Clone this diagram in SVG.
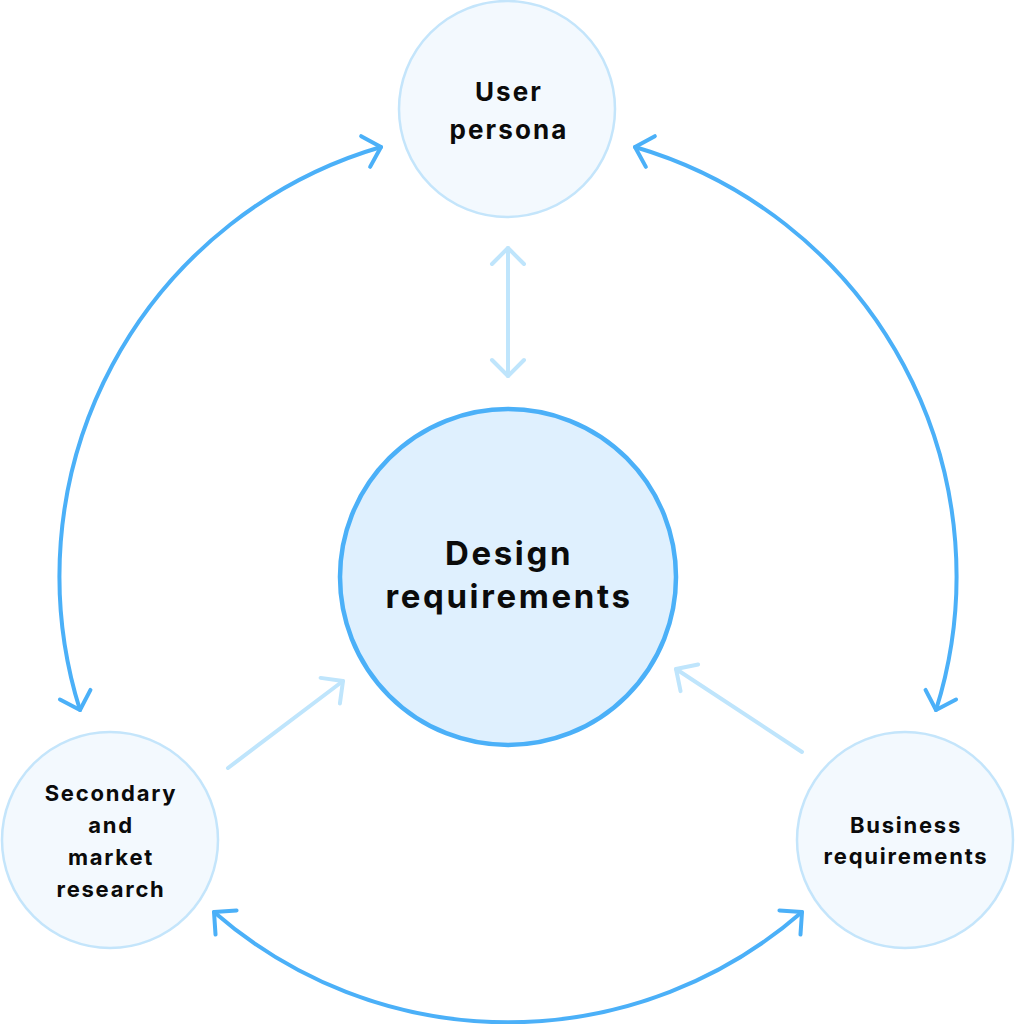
<svg xmlns="http://www.w3.org/2000/svg" width="1015" height="1024" viewBox="0 0 1015 1024">
<style>
.txt{font-family:Inter,"Noto Sans","DejaVu Sans",sans-serif;font-weight:700;fill:#0b0b0b;text-anchor:middle;letter-spacing:0.08em}
.node{fill:#f3f9fe;stroke:#c4e5fb;stroke-width:2.5}
.main{fill:#dff0fe;stroke:#4bb0f8;stroke-width:4.5}
.arc{fill:none;stroke:#4bb0f8;stroke-width:4;stroke-linecap:round}
.light{fill:none;stroke:#bfe5fc;stroke-width:4;stroke-linecap:round}
</style>
<defs>
<marker id="ah" markerUnits="userSpaceOnUse" markerWidth="40" markerHeight="40" refX="20" refY="20" orient="auto-start-reverse" viewBox="0 0 40 40">
<path d="M4 4 L20 20 L4 36" fill="none" stroke="#4bb0f8" stroke-width="4" stroke-linecap="round" stroke-linejoin="round"/>
</marker>
<marker id="al" markerUnits="userSpaceOnUse" markerWidth="40" markerHeight="40" refX="20" refY="20" orient="auto-start-reverse" viewBox="0 0 40 40">
<path d="M4 4 L20 20 L4 36" fill="none" stroke="#bfe5fc" stroke-width="4" stroke-linecap="round" stroke-linejoin="round"/>
</marker>
</defs>
<rect width="1015" height="1024" fill="#ffffff"/>
<g id="connectors">
<path class="arc" d="M381 147 A447 447 0 0 0 80 710" marker-start="url(#ah)" marker-end="url(#ah)"/>
<path class="arc" d="M635 147 A447 447 0 0 1 936 710" marker-start="url(#ah)" marker-end="url(#ah)"/>
<path class="arc" d="M214 912 A447 447 0 0 0 802 912" marker-start="url(#ah)" marker-end="url(#ah)"/>
<path class="light" d="M508 248 L508 376" marker-start="url(#al)" marker-end="url(#al)"/>
<path class="light" d="M228 768 L343 681" marker-end="url(#al)"/>
<path class="light" d="M802 752 L676 669" marker-end="url(#al)"/>
</g>
<g id="node-user-persona">
<circle class="node" cx="507" cy="109" r="108"/>
<text class="txt" font-size="26" x="509" y="101">User</text>
<text class="txt" font-size="26" x="509" y="139">persona</text>
</g>
<g id="node-design-requirements">
<circle class="main" cx="508" cy="577" r="168"/>
<text class="txt" font-size="33" x="509" y="565">Design</text>
<text class="txt" font-size="33" x="509" y="608">requirements</text>
</g>
<g id="node-secondary-research">
<circle class="node" cx="110" cy="840" r="108"/>
<text class="txt" font-size="22" x="111" y="801">Secondary</text>
<text class="txt" font-size="22" x="111" y="833">and</text>
<text class="txt" font-size="22" x="111" y="865">market</text>
<text class="txt" font-size="22" x="111" y="897">research</text>
</g>
<g id="node-business-requirements">
<circle class="node" cx="905" cy="840" r="108"/>
<text class="txt" font-size="22" x="906" y="833">Business</text>
<text class="txt" font-size="22" x="906" y="864">requirements</text>
</g>
</svg>
